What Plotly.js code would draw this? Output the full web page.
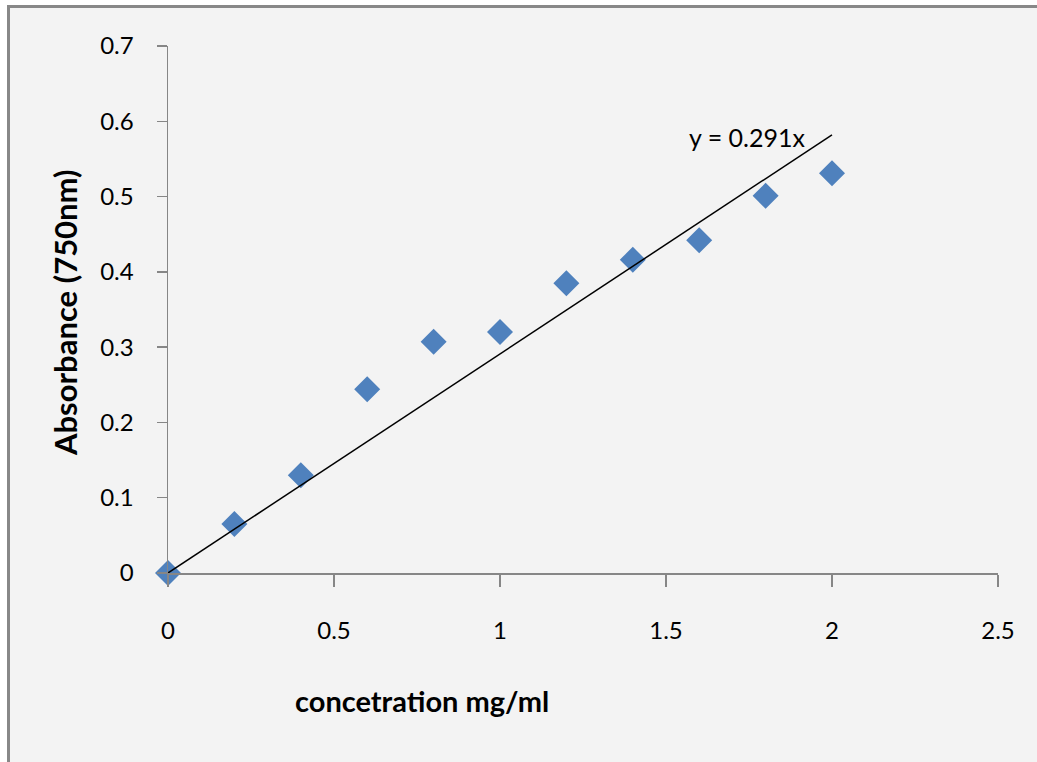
<!DOCTYPE html>
<html>
<head>
<meta charset="utf-8">
<script src="https://cdn.plot.ly/plotly-3.0.1.min.js"></script>
<style>
  html, body { margin: 0; padding: 0; background: #ffffff; }
  #frame { position: absolute; left: 7px; top: 5px; width: 1040px; height: 770px;
           background: #f3f3f3; border-left: 3px solid #888888; border-top: 3px solid #888888; }
  #chart { position: absolute; left: 0; top: 0; width: 1037px; height: 762px; }
</style>
</head>
<body>
<div id="frame"></div>
<div id="chart"></div>
<script>
const concentration = [0, 0.2, 0.4, 0.6, 0.8, 1.0, 1.2, 1.4, 1.6, 1.8, 2.0];
const absorbance = [0, 0.065, 0.13, 0.244, 0.307, 0.32, 0.385, 0.416, 0.442, 0.501, 0.531];
const slope = 0.291;
const trendX = [0, 2];
const trendY = trendX.map(v => slope * v);
const xTicks = [0, 0.5, 1, 1.5, 2, 2.5];
const yTicks = [0, 0.1, 0.2, 0.3, 0.4, 0.5, 0.6, 0.7];
const xTitle = 'concetration mg/ml';
const yTitle = 'Absorbance (750nm)';
const equation = 'y = 0.291x';

const fontFam = 'Lato, "Open Sans", sans-serif';
const axisColor = '#868686';

const traces = [
  { x: concentration, y: absorbance, mode: 'markers', type: 'scatter',
    marker: { symbol: 'diamond', size: 20, color: '#4f81bd' }, cliponaxis: false },
  { x: trendX, y: trendY, mode: 'lines', type: 'scatter',
    line: { color: '#000000', width: 1.5 } }
];

const layout = {
  width: 1037, height: 762,
  paper_bgcolor: 'rgba(0,0,0,0)', plot_bgcolor: 'rgba(0,0,0,0)',
  margin: { l: 168, r: 39, t: 46, b: 189 },
  showlegend: false,
  font: { family: fontFam, color: '#000000', size: 24 },
  xaxis: {
    range: [0, 2.5], tickvals: xTicks, ticktext: xTicks.map(String),
    showgrid: false, zeroline: false, showline: true, linecolor: axisColor, linewidth: 1.5,
    ticks: 'outside', ticklen: 12, tickcolor: axisColor, tickwidth: 1.5,
    ticklabelstandoff: 24, tickfont: { size: 24, family: fontFam }
  },
  yaxis: {
    range: [0, 0.7], tickvals: yTicks, ticktext: yTicks.map(String),
    showgrid: false, zeroline: false, showline: true, linecolor: axisColor, linewidth: 1.5,
    ticks: 'outside', ticklen: 10, tickcolor: axisColor, tickwidth: 1.5,
    ticklabelstandoff: 18, tickfont: { size: 24, family: fontFam }
  },
  annotations: [
    { x: 1.744, y: 0.579, xref: 'x', yref: 'y', text: equation, showarrow: false,
      font: { size: 25, family: fontFam, color: '#000000' } },
    { x: 422, y: 700, xref: 'paper', yref: 'paper', text: xTitle, showarrow: false,
      xanchor: 'center', yanchor: 'middle',
      font: { size: 29, family: fontFam, weight: 'bold', color: '#000000' } },
    { x: 65, y: 313, xref: 'paper', yref: 'paper', text: yTitle, showarrow: false,
      textangle: -90, xanchor: 'center', yanchor: 'middle',
      font: { size: 31, family: fontFam, weight: 'bold', color: '#000000' } }
  ]
};

// convert pixel positions of titles to paper coordinates
const pw = 1037 - 168 - 39, ph = 762 - 46 - 189;
layout.annotations[1].x = (layout.annotations[1].x - 168) / pw;
layout.annotations[1].y = (762 - 189 - layout.annotations[1].y) / ph;
layout.annotations[2].x = (layout.annotations[2].x - 168) / pw;
layout.annotations[2].y = (762 - 189 - layout.annotations[2].y) / ph;

Plotly.newPlot('chart', traces, layout, { displayModeBar: false, staticPlot: true });
</script>
</body>
</html>
